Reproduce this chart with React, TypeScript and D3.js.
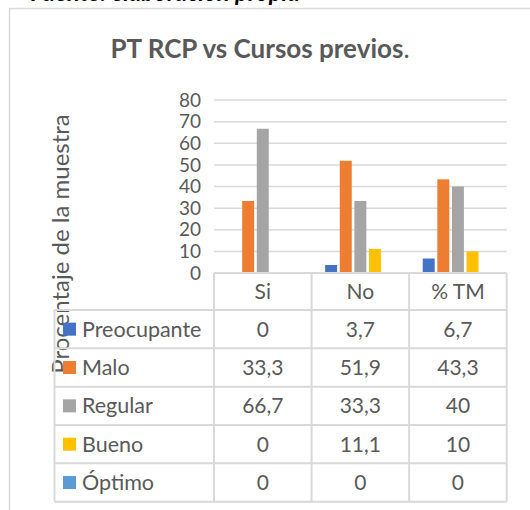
import React from 'react';
import * as d3 from 'd3';

const categories = ['Si', 'No', '% TM'];
const series = ['Preocupante', 'Malo', 'Regular', 'Bueno', 'Óptimo'];
const colors = ['#4472c4', '#ed7d31', '#a5a5a5', '#ffc000', '#5b9bd5'];
const values = [
  [0, 3.7, 6.7],
  [33.3, 51.9, 43.3],
  [66.7, 33.3, 40],
  [0, 11.1, 10],
  [0, 0, 0],
];
const yTicks = [0, 10, 20, 30, 40, 50, 60, 70, 80];

const W = 530;
const H = 510;
const font = 'Lato, "Open Sans", sans-serif';
const textColor = '#595959';
const lineColor = '#d9d9d9';

const plot = { left: 214, right: 506.7, top: 100, bottom: 273 };
const table = { left: 54.5, headerBottom: 310, bottom: 501.7 };

const fmt = (v: number) => String(v).replace('.', ',');

export default function App() {
  const y = d3.scaleLinear().domain([0, 80]).range([plot.bottom, plot.top]);
  const x = d3.scaleBand<string>().domain(categories).range([plot.left, plot.right]);
  const xs = d3
    .scaleBand<string>()
    .domain(series)
    .range([0, x.bandwidth()])
    .paddingInner(0.18)
    .paddingOuter(0.93);
  const row = d3
    .scaleBand<string>()
    .domain(series)
    .range([table.headerBottom, table.bottom]);

  const colEdges = [...categories.map((c) => x(c)!), plot.right];

  return (
    <svg
      width={W}
      height={H}
      style={{ position: 'absolute', left: 0, top: 0, background: '#fff' }}
    >
      {/* caption above the chart, cut off by the crop */}
      <text
        x={300}
        y={0.5}
        textAnchor="end"
        fontFamily={font}
        fontSize={24}
        fontWeight="bold"
        fontStyle="italic"
        fill="#000"
      >
        Fuente: elaboración propia
      </text>

      <rect x={9.5} y={8.5} width={W} height={H} fill="#fff" stroke={lineColor} strokeWidth={1.5} />

      <text x={260} y={58} textAnchor="middle" fontFamily={font} fontSize={26} fontWeight="bold" fill={textColor}>
        PT RCP vs Cursos previos<tspan fontWeight="normal">.</tspan>
      </text>

      {/* gridlines */}
      {yTicks.slice(1).map((t) => (
        <line key={t} x1={plot.left} x2={plot.right} y1={y(t)} y2={y(t)} stroke={lineColor} strokeWidth={1.5} />
      ))}

      {yTicks.map((t) => (
        <text
          key={t}
          x={201}
          y={y(t)}
          dy="0.35em"
          textAnchor="end"
          fontFamily={font}
          fontSize={19}
          fill={textColor}
        >
          {t}
        </text>
      ))}

      <text
        transform={`translate(69,244) rotate(-90)`}
        textAnchor="middle"
        fontFamily={font}
        fontSize={24}
        fill={textColor}
      >
        Procentaje de la muestra
      </text>

      {/* bars */}
      {series.map((s, i) =>
        categories.map((c, j) => (
          <rect
            key={s + c}
            x={x(c)! + xs(s)!}
            y={y(values[i][j])}
            width={xs.bandwidth()}
            height={plot.bottom - y(values[i][j])}
            fill={colors[i]}
          />
        ))
      )}

      {/* data table */}
      <g stroke={lineColor} strokeWidth={2}>
        <line x1={plot.left} x2={plot.right} y1={plot.bottom} y2={plot.bottom} />
        {series.map((s) => (
          <line key={s} x1={table.left} x2={plot.right} y1={row(s)!} y2={row(s)!} />
        ))}
        <line x1={table.left} x2={plot.right} y1={table.bottom} y2={table.bottom} />
        {colEdges.map((e, k) => (
          <line key={k} x1={e} x2={e} y1={plot.bottom} y2={table.bottom} />
        ))}
        <line x1={table.left} x2={table.left} y1={table.headerBottom} y2={table.bottom} />
      </g>

      {categories.map((c) => (
        <text
          key={c}
          x={x(c)! + x.bandwidth() / 2}
          y={(plot.bottom + table.headerBottom) / 2}
          dy="0.35em"
          textAnchor="middle"
          fontFamily={font}
          fontSize={21}
          fill={textColor}
        >
          {c}
        </text>
      ))}

      {series.map((s, i) => (
        <g key={s} transform={`translate(0,${row(s)! + row.bandwidth() / 2})`}>
          <rect x={63} y={-6.5} width={13} height={13} fill={colors[i]} />
          <text x={82} dy="0.35em" fontFamily={font} fontSize={21.5} fill={textColor}>
            {s}
          </text>
          {categories.map((c, j) => (
            <text
              key={c}
              x={x(c)! + x.bandwidth() / 2}
              dy="0.35em"
              textAnchor="middle"
              fontFamily={font}
              fontSize={21}
              fill={textColor}
            >
              {fmt(values[i][j])}
            </text>
          ))}
        </g>
      ))}
    </svg>
  );
}
